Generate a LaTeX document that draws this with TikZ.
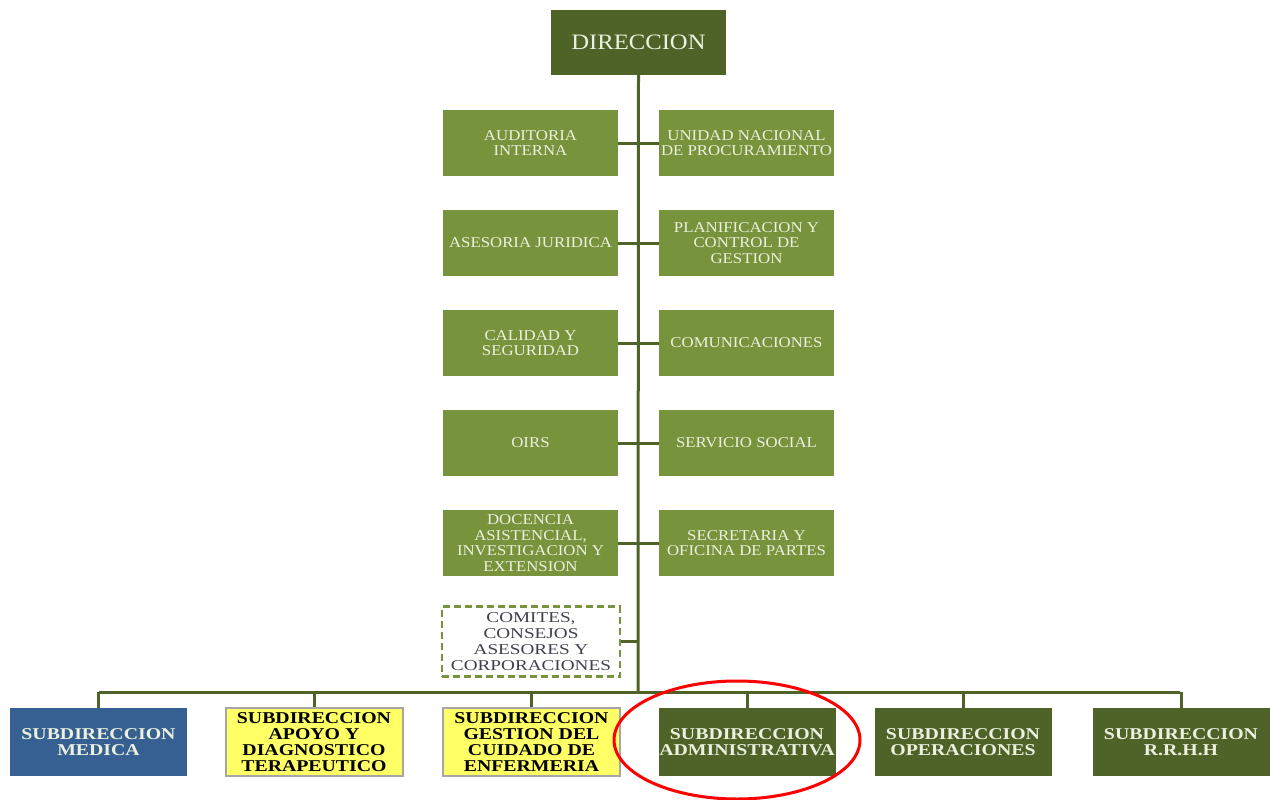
\documentclass[tikz,border=0pt]{standalone}
\usepackage{fontspec}
\setmainfont{Liberation Serif}
\newfontfamily\topfont[FakeStretch=1.12]{Liberation Serif}
\newfontfamily\stafffont[FakeStretch=1.12]{Liberation Serif}
\newfontfamily\comfont[FakeStretch=1.28]{Liberation Serif}
\newfontfamily\subfont[FakeStretch=1.2]{Liberation Serif}
\definecolor{dkolive}{HTML}{4F6228}
\definecolor{midolive}{HTML}{77933C}
\definecolor{paletxt}{HTML}{EBF1DE}
\definecolor{medblue}{HTML}{376092}
\definecolor{ylw}{HTML}{FFFF66}
\definecolor{ylwborder}{HTML}{A6A6A6}
\definecolor{comtxt}{HTML}{404050}
\begin{document}
\begin{tikzpicture}[x=1pt,y=-1pt,
  link/.style={draw=dkolive,line width=3pt},
  topbox/.style={fill=dkolive,draw=none,minimum width=175pt,minimum height=65pt,text=paletxt,font=\topfont\fontsize{22}{24}\selectfont,inner sep=0pt},
  staff/.style={fill=midolive,draw=none,minimum width=175pt,minimum height=66pt,text=paletxt,align=center,font=\stafffont\fontsize{15}{15.5}\selectfont,inner sep=0pt},
  combox/.style={draw=midolive,dash pattern=on 7pt off 4pt,line width=2.5pt,fill=white,minimum width=178pt,minimum height=70pt,text=comtxt,align=center,font=\comfont\fontsize{15}{16}\selectfont,inner sep=0pt},
  subbox/.style={minimum width=177pt,minimum height=68pt,align=center,font=\subfont\bfseries\fontsize{16.5}{16}\selectfont,inner sep=0pt},
  subdark/.style={subbox,fill=dkolive,draw=none,text=paletxt},
  subblue/.style={subbox,fill=medblue,draw=none,text=paletxt},
  subyel/.style={subbox,fill=ylw,draw=ylwborder,line width=2pt,text=black}
]
\useasboundingbox (0,0) rectangle (1270,800);
% top
\node[topbox] (dir) at (638.5,42.5) {DIRECCION};
% staff boxes
\node[staff] (aud) at (530.5,143) {AUDITORIA\\INTERNA};
\node[staff] (unp) at (746.5,143) {UNIDAD NACIONAL\\DE PROCURAMIENTO};
\node[staff] (ase) at (530.5,243) {ASESORIA JURIDICA};
\node[staff] (pla) at (746.5,243) {PLANIFICACION Y\\CONTROL DE\\GESTION};
\node[staff] (cal) at (530.5,343) {CALIDAD Y\\SEGURIDAD};
\node[staff] (com) at (746.5,343) {COMUNICACIONES};
\node[staff] (oir) at (530.5,443) {OIRS};
\node[staff] (ser) at (746.5,443) {SERVICIO SOCIAL};
\node[staff] (doc) at (530.5,543) {DOCENCIA\\ASISTENCIAL,\\INVESTIGACION Y\\EXTENSION};
\node[staff] (sec) at (746.5,543) {SECRETARIA Y\\OFICINA DE PARTES};
\node[combox] (cmt) at (531,641.5) {COMITES,\\CONSEJOS\\ASESORES Y\\CORPORACIONES};
% trunk and bus
\coordinate (bus) at (638,692);
\coordinate (busL) at (98.5,692);
\coordinate (busR) at (1180,692);
\draw[link] (dir.south) -- (bus);
\draw[link] (aud.east) -- (unp.west);
\draw[link] (ase.east) -- (pla.west);
\draw[link] (cal.east) -- (com.west);
\draw[link] (oir.east) -- (ser.west);
\draw[link] (doc.east) -- (sec.west);
\draw[link] (cmt.east) -- (cmt.east -| bus);
\draw[link] (busL) -- (busR);
% bottom boxes
\node[subblue] (med) at (98.5,742) {SUBDIRECCION\\MEDICA};
\node[subyel] (apo) at (314,742) {SUBDIRECCION\\APOYO Y\\DIAGNOSTICO\\TERAPEUTICO};
\node[subyel] (enf) at (531.5,742) {SUBDIRECCION\\GESTION DEL\\CUIDADO DE\\ENFERMERIA};
\node[subdark] (adm) at (747,742) {SUBDIRECCION\\ADMINISTRATIVA};
\node[subdark] (ope) at (963,742) {SUBDIRECCION\\OPERACIONES};
\node[subdark] (rrh) at (1181,742) {SUBDIRECCION\\R.R.H.H};
\foreach \n in {med,apo,enf,adm,ope,rrh}{
  \draw[link] (\n.north) -- (\n.north |- bus);
}
% highlight
\draw[red,line width=3pt] (737,740) ellipse [x radius=123pt,y radius=59pt];
\end{tikzpicture}
\end{document}
